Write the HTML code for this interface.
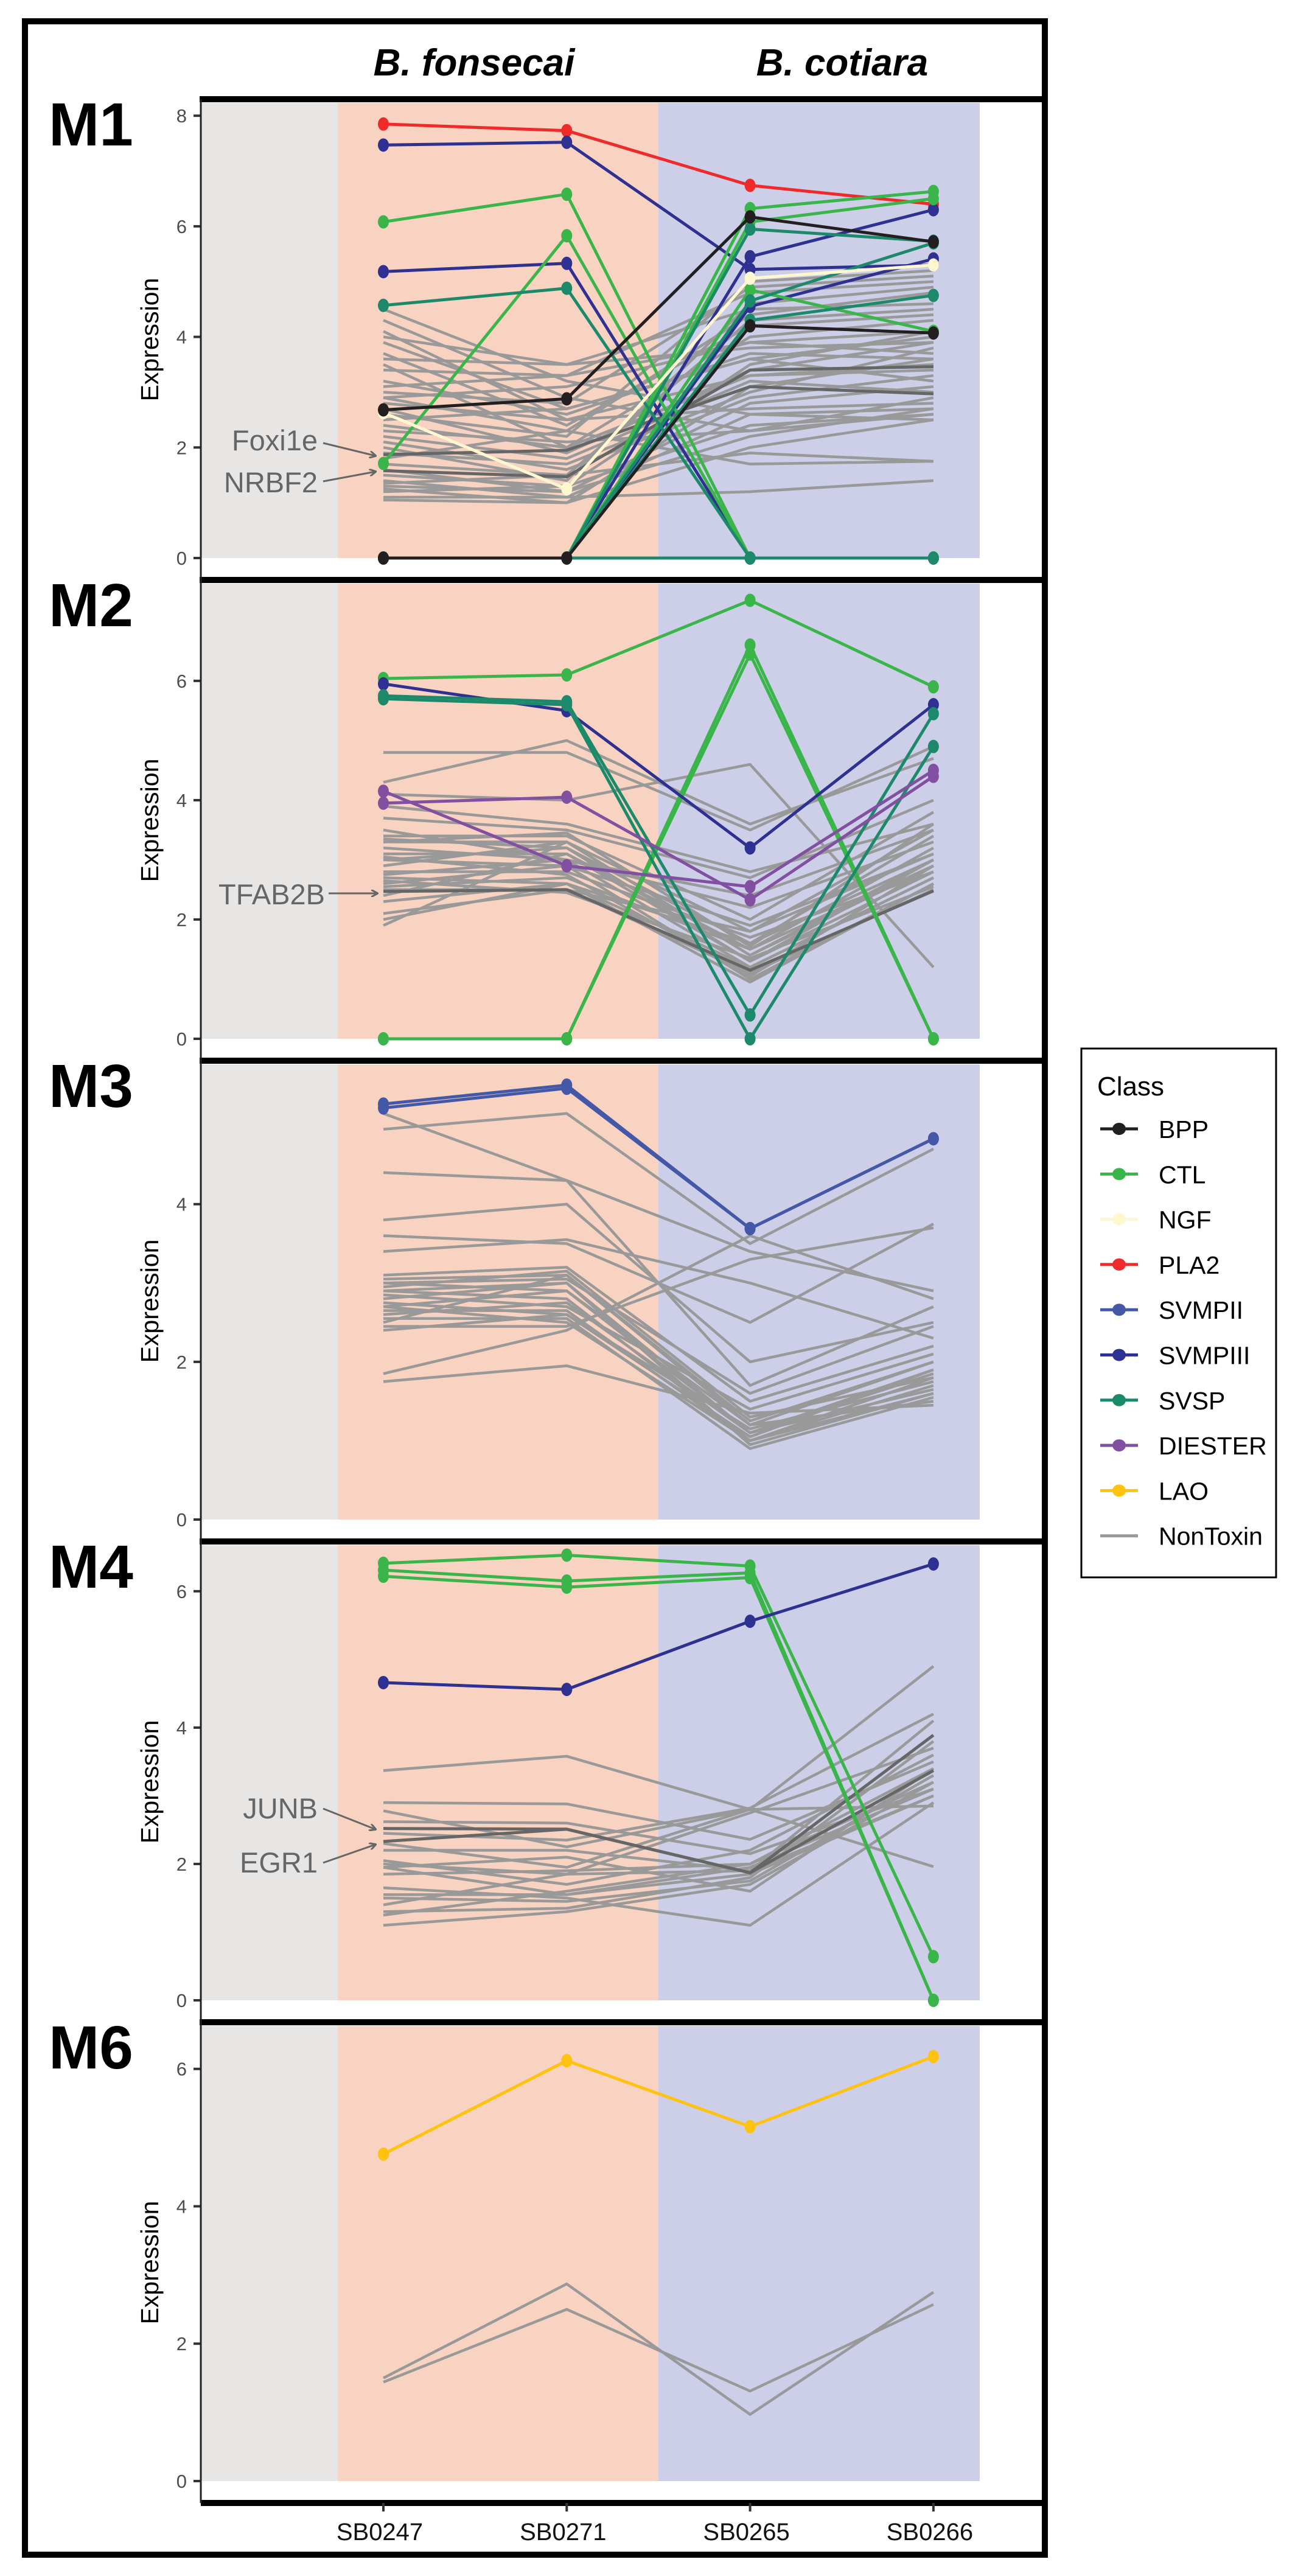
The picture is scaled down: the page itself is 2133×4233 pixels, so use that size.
<!DOCTYPE html>
<html><head><meta charset="utf-8">
<style>
html,body{margin:0;padding:0;background:#fff;}
svg{display:block;font-family:"Liberation Sans",sans-serif;}
</style></head>
<body>
<svg id="chart" xmlns="http://www.w3.org/2000/svg" width="2133" height="4233" viewBox="0 0 2133 4233">
<defs>
<marker id="arr" markerWidth="12" markerHeight="12" refX="10" refY="6" orient="auto" markerUnits="userSpaceOnUse"><path d="M0,0 L11,6 L0,12" fill="none" stroke="#666" stroke-width="3"/></marker>
</defs>
<g id="bg"></g><g id="marks"></g><g id="frame"></g>
</svg>
<script>
const samples = ["SB0247","SB0271","SB0265","SB0266"];
const classes = ["BPP","CTL","NGF","PLA2","SVMPII","SVMPIII","SVSP","DIESTER","LAO","NonToxin"];
const classColors = ["#231F20","#3AB54A","#FFF7CF","#EE2A2A","#4358A7","#2E3192","#1C8A6A","#8150A0","#FFC20E","#999999"];
const moduleNames = ["M1","M2","M3","M4","M6"];
const moduleTicks = [[0,2,4,6,8],[0,2,4,6],[0,2,4],[0,2,4,6],[0,2,4,6]];
const moduleTopVal = [8.2,7.6,5.75,6.65,6.6];

const m1Toxins = [
 ["PLA2",[7.85,7.73,6.74,6.4]],
 ["SVMPIII",[7.47,7.52,5.22,5.3]],
 ["SVMPIII",[5.18,5.33,0,0]],
 ["SVMPIII",[0,0,5.45,6.3]],
 ["SVMPIII",[0,0,4.55,5.41]],
 ["CTL",[6.08,6.58,0,0]],
 ["CTL",[1.71,5.83,0,0]],
 ["CTL",[0,0,6.32,6.63]],
 ["CTL",[0,0,6.08,6.5]],
 ["CTL",[0,0,4.85,4.1]],
 ["SVSP",[4.57,4.88,0,0]],
 ["SVSP",[0,0,5.95,5.73]],
 ["SVSP",[0,0,4.65,5.7]],
 ["SVSP",[0,0,4.3,4.75]],
 ["SVSP",[0,0,0,0]],
 ["NGF",[2.63,1.25,5.06,5.3]],
 ["BPP",[2.68,2.88,6.17,5.72]],
 ["BPP",[0,0,4.2,4.07]]
];
const m1Gray = [[4.5,3.2,2.6,2.7],[4.3,2.9,2.3,2.6],[4.0,3.5,3.8,3.9],[3.9,2.7,3.6,4.0],[3.7,2.4,4.2,4.4],[3.6,3.5,4.5,4.6],[3.4,3.3,4.8,5.0],[3.2,2.6,3.7,3.6],[3.1,3.3,3.9,3.7],[2.9,2.3,4.4,4.8],[2.8,2.5,3.3,3.5],[2.6,2.2,5.0,5.2],[2.5,2.7,3.6,3.2],[2.4,2.0,4.0,4.3],[2.3,2.1,2.3,2.9],[2.2,1.8,3.2,3.0],[2.1,1.6,2.9,3.3],[2.0,1.4,4.6,4.9],[1.9,1.7,3.0,3.8],[1.8,2.3,1.7,1.75],[1.7,1.5,1.9,1.75],[1.6,1.2,2.8,3.1],[1.5,1.3,3.5,4.1],[1.4,1.1,2.6,2.5],[1.3,1.2,2.2,2.7],[1.25,1.0,3.1,3.6],[1.2,1.3,2.4,2.6],[1.1,1.1,1.2,1.4],[1.05,1.0,2.0,2.5],[3.0,2.8,4.9,5.1],[2.7,1.9,3.4,3.9],[3.5,2.0,3.3,3.4],[1.35,1.5,4.3,4.5],[2.9,3.1,3.9,4.1],[4.1,2.5,2.7,2.8]];
const m1Dark = [[1.87,1.95,3.1,2.97],[1.58,1.47,3.4,3.46]];

const m2Toxins = [
 ["CTL",[6.04,6.1,7.35,5.9]],
 ["CTL",[0,0,6.6,0]],
 ["CTL",[0,0,6.45,0]],
 ["SVMPIII",[5.95,5.5,3.2,5.6]],
 ["SVSP",[5.75,5.65,0.4,5.45]],
 ["SVSP",[5.7,5.6,0,4.9]],
 ["DIESTER",[4.15,2.9,2.55,4.5]],
 ["DIESTER",[3.95,4.05,2.33,4.4]]
];
const m2Gray = [[4.8,4.8,3.5,4.9],[4.3,5.0,3.6,4.7],[4.1,4.0,4.6,1.2],[3.9,3.6,2.8,3.6],[3.7,3.5,2.7,4.0],[3.4,3.4,2.0,3.8],[3.35,3.2,1.6,3.4],[3.3,3.3,1.8,3.5],[3.2,3.0,2.2,3.3],[3.1,3.1,1.5,3.2],[3.0,3.2,1.3,3.0],[3.0,2.9,1.9,3.1],[2.9,3.3,1.4,2.9],[2.8,2.8,1.7,2.8],[2.75,3.0,1.2,2.7],[2.7,2.6,1.6,3.0],[2.6,2.9,1.0,2.6],[2.55,2.7,1.5,2.9],[2.5,2.5,1.1,2.5],[2.4,3.1,1.3,2.8],[2.3,2.6,0.95,2.6],[2.1,2.5,1.8,3.1],[2.0,2.6,1.2,2.7],[1.9,3.3,1.4,3.0],[3.5,3.0,2.4,3.5],[3.3,3.45,1.55,3.6],[2.65,2.45,1.35,2.55],[3.05,2.75,1.05,2.9]];
const m2Dark = [[2.47,2.5,1.15,2.48]];

const m3Toxins = [
 ["SVMPII",[5.22,5.47,3.69,4.83]],
 ["SVMPII",[5.27,5.51,3.69,4.83]]
];
const m3Gray = [[5.15,4.3,1.7,2.7],[4.95,5.15,3.5,4.7],[4.4,4.3,3.4,2.9],[3.8,4.0,2.0,2.5],[3.6,3.5,2.5,3.75],[3.4,3.55,3.0,2.3],[3.1,3.2,1.5,2.2],[3.05,3.1,1.2,2.0],[3.0,2.9,1.1,1.9],[2.95,3.15,1.3,1.8],[2.9,2.8,1.0,1.7],[2.85,2.7,1.4,2.1],[2.8,3.0,0.95,1.6],[2.75,2.6,1.05,1.9],[2.7,2.9,1.2,1.5],[2.65,2.65,1.0,1.8],[2.6,2.75,1.1,1.65],[2.55,2.55,0.9,1.55],[2.5,3.1,1.25,2.0],[2.45,2.45,3.3,3.7],[2.4,2.6,1.15,1.75],[1.85,2.4,3.6,2.8],[1.75,1.95,1.35,1.45],[3.0,3.05,1.6,2.45],[2.7,2.5,1.0,1.6],[2.9,3.0,1.1,1.85]];
const m3Dark = [];

const m4Toxins = [
 ["CTL",[6.41,6.53,6.37,0.64]],
 ["CTL",[6.31,6.15,6.27,0]],
 ["CTL",[6.22,6.06,6.2,0]],
 ["SVMPIII",[4.66,4.56,5.56,6.4]]
];
const m4Gray = [[3.37,3.58,2.8,1.96],[2.9,2.88,2.36,3.5],[2.78,2.25,2.8,4.9],[2.62,2.6,2.15,3.1],[2.45,2.35,2.82,4.2],[2.2,2.2,1.9,4.1],[2.0,1.85,2.75,3.7],[1.95,2.1,1.6,3.4],[1.95,1.55,1.85,3.0],[1.85,1.9,2.0,3.2],[1.65,1.5,1.1,2.9],[1.55,1.55,1.95,3.1],[1.5,1.45,1.75,3.3],[1.4,1.85,1.9,3.0],[1.3,1.35,1.8,3.8],[1.25,1.6,2.0,3.4],[1.1,1.3,1.7,3.2],[2.3,1.95,2.8,2.85],[2.05,1.7,2.2,3.6]];
const m4Dark = [[2.52,2.51,1.87,3.89],[2.33,2.51,1.87,3.37]];

const m6Toxins = [
 ["LAO",[4.76,6.12,5.16,6.18]]
];
const m6Gray = [[1.5,2.87,0.97,2.75],[1.44,2.5,1.31,2.57]];
const m6Dark = [];

const moduleToxins = [m1Toxins,m2Toxins,m3Toxins,m4Toxins,m6Toxins];
const moduleGray = [m1Gray,m2Gray,m3Gray,m4Gray,m6Gray];
const moduleDark = [m1Dark,m2Dark,m3Dark,m4Dark,m6Dark];

// layout
const NS="http://www.w3.org/2000/svg";
const AX_L=330, AX_R=1717, PANEL_H=790, FIRST_TOP=163, BOTTOM_PAD=36, TOP_PAD=6;
const bandEdges=[330,555,1082,1610];
const bandColors=["#E8E6E4","#F9D3C1","#CDCFE8"];
function xPos(i){return 630+i*301.3;}
function panelTop(p){return FIRST_TOP+p*PANEL_H;}
function yZero(p){return panelTop(p)+PANEL_H-BOTTOM_PAD;}
function yScale(p){const z=yZero(p), t=panelTop(p)+TOP_PAD+3; return v=> z-(z-t)*v/moduleTopVal[p];}
function el(tag,attrs,parent){const e=document.createElementNS(NS,tag);for(const k in attrs)e.setAttribute(k,attrs[k]);parent.appendChild(e);return e;}
const bg=document.getElementById('bg'), marks=document.getElementById('marks'), frame=document.getElementById('frame');
const colorOf=c=>classColors[classes.indexOf(c)];

moduleNames.forEach((mn,p)=>{
  const y=yScale(p), top=panelTop(p)+TOP_PAD, z=yZero(p);
  for(let b=0;b<3;b++){
    const r=el('rect',{x:bandEdges[b],y:top,width:bandEdges[b+1]-bandEdges[b],height:z-top,fill:bandColors[b]},bg);
    
    
  }
  const g=el('g',{},marks);
  
  
  moduleGray[p].forEach((vals,i)=>{
    const pl=el('polyline',{points:vals.map((v,j)=>xPos(j)+','+y(v)).join(' '),fill:'none',stroke:'#999999','stroke-width':4.5,'stroke-linejoin':'round'},g);
    
    
  });
  moduleDark[p].forEach(vals=>{
    const pl=el('polyline',{points:vals.map((v,j)=>xPos(j)+','+y(v)).join(' '),fill:'none',stroke:'#666666','stroke-width':5,'stroke-linejoin':'round'},g);
    
    
  });
  moduleToxins[p].forEach(([cls,vals])=>{
    const c=colorOf(cls);
    const pl=el('polyline',{points:vals.map((v,j)=>xPos(j)+','+y(v)).join(' '),fill:'none',stroke:c,'stroke-width':5,'stroke-linejoin':'round'},g);
    
    
    vals.forEach((v,j)=>{
      const pt=el('ellipse',{cx:xPos(j),cy:y(v),rx:9,ry:11,fill:c},g);
      
      
    });
  });
  // ticks
  moduleTicks[p].forEach(t=>{
    const tl=el('line',{x1:318,x2:AX_L,y1:y(t),y2:y(t),stroke:'#333','stroke-width':4},frame);
    
    
    const tx=el('text',{x:307,y:y(t)+11,'text-anchor':'end','font-size':31,fill:'#4d4d4d'},frame);
    tx.textContent=t;
    
    
  });
  const yc=panelTop(p)+PANEL_H/2;
  const yt=el('text',{x:260,y:yc,'text-anchor':'middle','font-size':41,fill:'#000',transform:`rotate(-90 260 ${yc})`},frame);
  yt.textContent='Expression';
  
  
  const ml=el('text',{x:80,y:panelTop(p)+76,'font-size':100,'font-weight':'bold',fill:'#000'},frame);
  ml.textContent=mn;
  
  
  const hl=el('line',{x1:AX_L-2,x2:AX_R,y1:panelTop(p),y2:panelTop(p),stroke:'#000','stroke-width':10},frame);
  
  
});
// axes
const bottom=panelTop(5);
const xl=el('line',{x1:AX_L,x2:AX_R,y1:bottom,y2:bottom,stroke:'#000','stroke-width':10},frame);


const yl=el('line',{x1:AX_L,x2:AX_L,y1:FIRST_TOP,y2:bottom,stroke:'#222','stroke-width':3},frame);


samples.forEach((s,i)=>{
  const tk=el('line',{x1:xPos(i),x2:xPos(i),y1:bottom,y2:bottom+14,stroke:'#333','stroke-width':4},frame);
  
  
  const t=el('text',{x:xPos(i)-6,y:4174,'text-anchor':'middle','font-size':40,fill:'#111'},frame);
  t.textContent=s;
  
  
});
// outer frame
const of=el('rect',{x:41,y:35,width:1676,height:4163,fill:'none',stroke:'#000','stroke-width':10},frame);


[["B. fonsecai",779],["B. cotiara",1384]].forEach(([txt,x])=>{
  const t=el('text',{x:x,y:124,'text-anchor':'middle','font-size':62,'font-weight':'bold','font-style':'italic',fill:'#000'},frame);
  t.textContent=txt;
  
  
});
// annotations
const annots=[["Foxi1e",522,740,531,728,617,749],["NRBF2",522,809,531,791,617,775],["TFAB2B",534,1486,540,1468,620,1468],["JUNB",522,2988,531,2972,617,3006],["EGR1",522,3077,531,3061,617,3031]];
annots.forEach(a=>{
  const t=el('text',{x:a[1],y:a[2],'text-anchor':'end','font-size':47,fill:'#666'},frame);
  t.textContent=a[0];
  
  
  const l=el('line',{x1:a[3],y1:a[4],x2:a[5],y2:a[6],stroke:'#666','stroke-width':3,'marker-end':'url(#arr)'},frame);
  
  
});
// legend
const lg=el('g',{},frame);


const lb=el('rect',{x:1777,y:1723,width:320,height:869,fill:'#fff',stroke:'#000','stroke-width':3},lg);


const lt=el('text',{x:1803,y:1800,'font-size':44,fill:'#000'},lg);
lt.textContent='Class';


classes.forEach((c,i)=>{
  const cy=1855+i*74.3;
  const e=el('g',{},lg);
  
  
  el('line',{x1:1808,x2:1870,y1:cy,y2:cy,stroke:classColors[i],'stroke-width':5},e);
  if(c!=='NonToxin') el('ellipse',{cx:1839,cy:cy,rx:11,ry:10,fill:classColors[i]},e);
  const t=el('text',{x:1904,y:cy+15,'font-size':41,fill:'#000'},e);
  t.textContent=c;
});
</script>
</body></html>
